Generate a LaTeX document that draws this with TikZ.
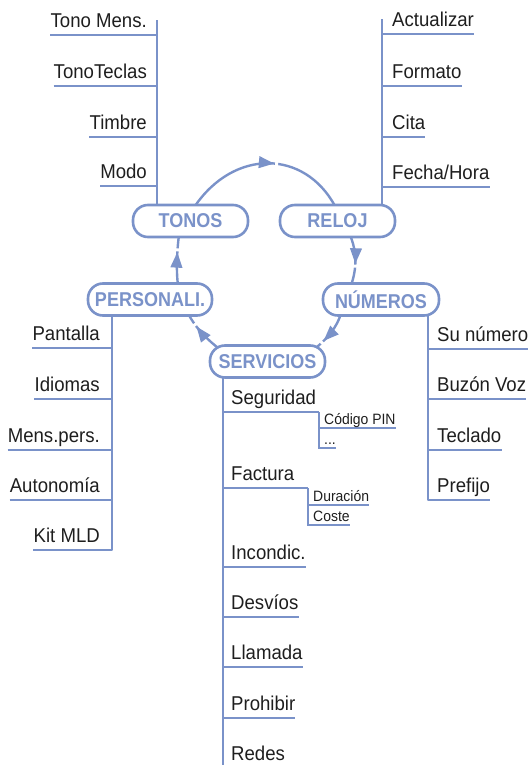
\documentclass[tikz,border=0pt]{standalone}
\usepackage{fontspec}
\setmainfont{Liberation Sans}[FakeStretch=0.93]
\newfontfamily\headfont{Liberation Sans}[FakeStretch=0.9]
\usetikzlibrary{arrows.meta,decorations.markings,calc}
\definecolor{mblue}{RGB}{122,146,201}
\definecolor{mtext}{RGB}{30,30,30}
\pgfdeclarelayer{bg}
\pgfsetlayers{bg,main}
\tikzset{
  hub/.style={draw=mblue, line width=2.6pt, fill=white, rounded corners=15pt,
    minimum height=32pt, minimum width=115pt, inner sep=0pt, text=mblue,
    font=\headfont\bfseries\fontsize{20}{24}\selectfont},
  itm/.style={inner sep=0pt, text=mtext, text depth=7.5pt,
    font=\fontsize{20}{24}\selectfont},
  litem/.style={itm, anchor=south east},
  ritem/.style={itm, anchor=south west},
  sitem/.style={inner sep=0pt, text=mtext, text depth=3pt, anchor=south west,
    font=\fontsize{15}{18}\selectfont},
  branch/.style={draw=mblue, line width=2.4pt, line join=round},
  subbranch/.style={draw=mblue, line width=1.4pt},
  cyc/.style={draw=mblue, line width=2.4pt, postaction={decorate},
    decoration={markings, mark=at position #1 with {
      \fill[white] (0.8pt,-3pt) rectangle (3.8pt,3pt);
      \arrow[mblue]{Triangle[length=15.5pt,width=11.5pt]}}}},
}
\begin{document}
\begin{tikzpicture}[x=1pt,y=-1pt]
\useasboundingbox (0,0) rectangle (529,765);

% hubs
\node[hub] (tonos) at (190.5,221) {TONOS};
\node[hub] (reloj) at (337.5,221) {RELOJ};
\node[hub, minimum width=124pt] (personali) at (150,299.5) {PERSONALI.};
\node[hub, minimum width=116pt] (numeros) at (381,299.5) {NÚMEROS};
\node[hub] (servicios) at (267.5,361.5) {SERVICIOS};

% trunk coordinates
\coordinate (tTop) at (157,20);
\coordinate (rTop) at (382,19);
\coordinate (pBot) at (112,550);
\coordinate (nBot) at (428,500);
\coordinate (sBot) at (223,765);
\coordinate (segSub) at (319,412);
\coordinate (facSub) at (308,488);

% TONOS items
\node[litem] (t1) at (147,35) {Tono Mens.};
\node[litem] (t2) at (147,86) {TonoTeclas};
\node[litem] (t3) at (147,137) {Timbre};
\node[litem] (t4) at (147,186) {Modo};
% RELOJ items
\node[ritem] (r1) at (392,34) {Actualizar};
\node[ritem] (r2) at (392,86) {Formato};
\node[ritem] (r3) at (392,137) {Cita};
\node[ritem] (r4) at (392,187) {Fecha/Hora};
% PERSONALI items
\node[litem] (p1) at (100,348) {Pantalla};
\node[litem] (p2) at (100,399) {Idiomas};
\node[litem] (p3) at (100,450) {Mens.pers.};
\node[litem] (p4) at (100,500) {Autonomía};
\node[litem] (p5) at (100,550) {Kit MLD};
% NUMEROS items
\node[ritem] (n1) at (437,349) {Su número};
\node[ritem] (n2) at (437,399) {Buzón Voz};
\node[ritem] (n3) at (437,450) {Teclado};
\node[ritem] (n4) at (437,500) {Prefijo};
% SERVICIOS items
\node[ritem] (s1) at (231,412) {Seguridad};
\node[ritem] (s2) at (231,488) {Factura};
\node[ritem] (s3) at (231,567) {Incondic.};
\node[ritem] (s4) at (231,617) {Desvíos};
\node[ritem] (s5) at (231,667) {Llamada};
\node[ritem] (s6) at (231,718) {Prohibir};
\node[ritem] (s7) at (231,768) {Redes};
% sub items
\node[sitem] (pin) at (324,428) {Código PIN};
\node[sitem] (dots) at (324,448) {...};
\node[sitem] (dur) at (313,505) {Duración};
\node[sitem] (cos) at (313,525) {Coste};

\begin{pgfonlayer}{bg}
% cycle
\draw[cyc=0.55] ($(tonos.center)+(4.5,-15)$) .. controls (234,149) and (304,149) .. ($(reloj.center)+(-2.5,-15)$);
\draw[cyc=0.57] ($(reloj.center)+(12.5,14)$) .. controls (357,252) and (357,268) .. ($(numeros.center)+(-30,-14)$);
\draw[cyc=0.72] ($(numeros.center)+(-40,14)$) .. controls (337,327) and (328,338) .. ($(servicios.center)+(46.5,-12)$);
\draw[cyc=0.68] ($(servicios.center)+(-47.5,-12)$) .. controls (208,340) and (197,330) .. ($(personali.center)+(38,14)$);
\draw[cyc=0.66] ($(personali.center)+(28,-14)$) .. controls (176,270) and (177,250) .. ($(tonos.center)+(-11.5,14)$);

% trunks
\draw[branch] (tonos.center -| tTop) -- (tTop);
\draw[branch] (reloj.center -| rTop) -- (rTop);
\draw[branch] (personali.center -| pBot) -- (pBot) -- (p5.south west);
\draw[branch] (numeros.center -| nBot) -- (nBot) -- (n4.south east);
\draw[branch] (servicios.center -| sBot) -- (sBot);

% branches
\foreach \n in {t1,t2,t3,t4} \draw[branch] (\n.south west) -- (\n.south west -| tTop);
\foreach \n in {r1,r2,r3,r4} \draw[branch] (\n.south west -| rTop) -- (\n.south east);
\foreach \n in {p1,p2,p3,p4} \draw[branch] (\n.south west) -- (\n.south west -| pBot);
\foreach \n in {n1,n2,n3} \draw[branch] (\n.south west -| nBot) -- (\n.south east);
\foreach \n in {s3,s4,s5,s6} \draw[branch] (\n.south west -| sBot) -- (\n.south east);
\draw[branch] (s1.south west -| sBot) -- (segSub);
\draw[branch] (s2.south west -| sBot) -- (facSub);

% sub branches
\draw[subbranch] (segSub) |- (dots.south east);
\draw[subbranch] (pin.south west -| segSub) -- (pin.south east);
\draw[subbranch] (facSub) |- (cos.south east);
\draw[subbranch] (dur.south west -| facSub) -- (dur.south east);
\end{pgfonlayer}
\end{tikzpicture}
\end{document}
